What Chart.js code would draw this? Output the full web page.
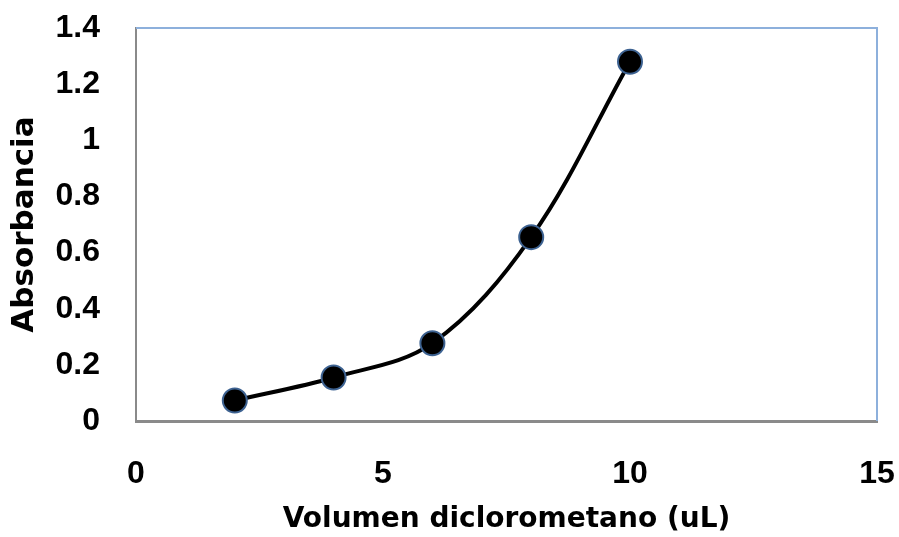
<!DOCTYPE html>
<html>
<head>
<meta charset="utf-8">
<script src="https://cdn.jsdelivr.net/npm/chart.js@4/dist/chart.umd.min.js"></script>
<style>
  html, body { margin: 0; padding: 0; background: #ffffff; }
  #wrap { width: 899px; height: 537px; position: relative; }
</style>
</head>
<body>
<div id="wrap"><canvas id="c" width="899" height="537"></canvas></div>
<script>
// Volumen de diclorometano (uL) frente a absorbancia
const volumes = [2, 4, 6, 8, 10];
const absorbance = [0.073, 0.155, 0.277, 0.655, 1.28];
const xTicks = [0, 5, 10, 15];
const yTicks = [0, 0.2, 0.4, 0.6, 0.8, 1, 1.2, 1.4];
const xTitle = 'Volumen diclorometano (uL)';
const yTitle = 'Absorbancia';

// light blue frame on the top and right of the plot area
const framePlugin = {
  id: 'frame',
  beforeDatasetsDraw(chart) {
    const { ctx, chartArea: a } = chart;
    ctx.save();
    ctx.strokeStyle = '#8db0dc';
    ctx.lineWidth = 2;
    ctx.beginPath();
    ctx.moveTo(a.left, a.top);
    ctx.lineTo(a.right, a.top);
    ctx.lineTo(a.right, a.bottom);
    ctx.stroke();
    ctx.restore();
  }
};

const tickFont = { family: '"Liberation Sans", Arial, sans-serif', size: 32, weight: 'bold' };

new Chart(document.getElementById('c'), {
  type: 'line',
  data: {
    datasets: [{
      data: volumes.map((v, i) => ({ x: v, y: absorbance[i] })),
      borderColor: '#000000',
      borderWidth: 4,
      tension: 0.35,
      pointRadius: 12,
      pointHoverRadius: 12,
      pointBackgroundColor: '#000000',
      pointBorderColor: '#3d6291',
      pointBorderWidth: 2,
      fill: false
    }]
  },
  options: {
    responsive: false,
    animation: false,
    layout: { padding: { left: 0, right: 22, top: 28, bottom: 0 } },
    plugins: { legend: { display: false }, tooltip: { enabled: false } },
    scales: {
      x: {
        type: 'linear',
        min: 0, max: 15,
        afterBuildTicks(s) { s.ticks = xTicks.map(v => ({ value: v })); },
        afterFit(s) { s.height = 116; s.paddingLeft = 0; s.paddingRight = 0; },
        grid: { display: false, drawTicks: false },
        border: { display: true, color: '#8a8a8a', width: 3 },
        ticks: { color: '#000', font: tickFont, padding: 34, maxRotation: 0 },
        title: {
          display: true, text: xTitle, color: '#000',
          font: { family: '"DejaVu Sans", sans-serif', size: 28, weight: 'bold' },
          padding: { top: 0, bottom: 0 }
        }
      },
      y: {
        type: 'linear',
        min: 0, max: 1.4,
        afterBuildTicks(s) { s.ticks = yTicks.map(v => ({ value: v })); },
        afterFit(s) { s.width = 136; s.paddingTop = 0; s.paddingBottom = 0; },
        grid: { display: false, drawTicks: false },
        border: { display: true, color: '#8a8a8a', width: 2 },
        ticks: { color: '#000', font: tickFont, padding: 36,
                 callback: v => String(v) },
        title: {
          display: true, text: yTitle, color: '#000',
          font: { family: '"DejaVu Sans", sans-serif', size: 31, weight: 'bold' },
          padding: { top: 6, bottom: 0 }
        }
      }
    }
  },
  plugins: [framePlugin]
});
</script>
</body>
</html>
